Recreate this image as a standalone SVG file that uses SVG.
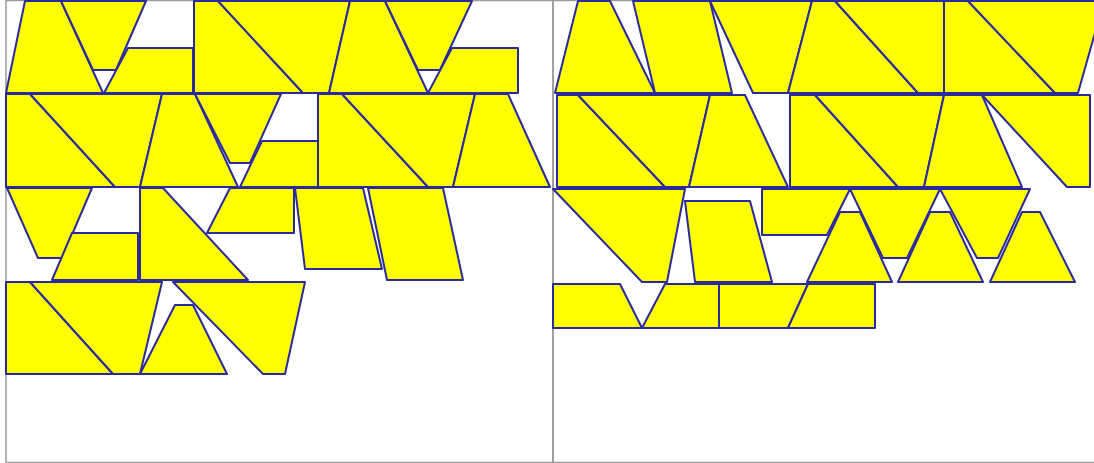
<svg xmlns="http://www.w3.org/2000/svg" width="1094" height="463" viewBox="0 0 1094 463">
<style>
.bg{fill:#ffffff}
.frame{fill:none;stroke:#9a9a9a;stroke-width:1.5}
.p{fill:#ffff00;stroke:#2a2a9e;stroke-width:2;stroke-linejoin:round}
</style>
<rect class="bg" x="0" y="0" width="1094" height="463"/>
<g id="frames">
<rect class="frame" x="6" y="0.5" width="547" height="462"/>
<rect class="frame" x="553" y="0.5" width="547" height="462"/>
</g>
<g id="left-panel">
<g id="L1A"><polygon class="p" points="6,93 25,1 61,1 103,93"/></g>
<g id="L1B"><polygon class="p" points="61,1 146,1 116,70 93,70"/></g>
<g id="L1C"><polygon class="p" points="104,93 128,48 193,48 193,93"/></g>
<g id="L1D"><polygon class="p" points="194,1 218,1 303,93 194,93"/></g>
<g id="L1E"><polygon class="p" points="218,1 350,1 329,93 303,93"/></g>
<g id="L1F"><polygon class="p" points="350,1 385,1 428,93 329,93"/></g>
<g id="L1G"><polygon class="p" points="385,1 472,1 440,70 418,70"/></g>
<g id="L1H"><polygon class="p" points="428,93 452,48 518,48 518,93"/></g>
<g id="L2I"><polygon class="p" points="6,94 30,94 115,187 6,187"/></g>
<g id="L2J"><polygon class="p" points="30,94 162,94 140,187 115,187"/></g>
<g id="L2K"><polygon class="p" points="162,94 195,94 238,187 140,187"/></g>
<g id="L2L"><polygon class="p" points="195,94 281,94 250,163 230,163"/></g>
<g id="L2M"><polygon class="p" points="240,187 262,141 318,141 318,187"/></g>
<g id="L2N"><polygon class="p" points="318,94 342,94 428,187 318,187"/></g>
<g id="L2O"><polygon class="p" points="342,94 475,94 453,187 428,187"/></g>
<g id="L2P"><polygon class="p" points="475,94 508,94 550,187 453,187"/></g>
<g id="L3Q"><polygon class="p" points="7,188 92,188 62,258 38,258"/></g>
<g id="L3R"><polygon class="p" points="52,280 72,233 138,233 138,280"/></g>
<g id="L3S"><polygon class="p" points="140,188 163,188 248,280 140,280"/></g>
<g id="L3T"><polygon class="p" points="207,233 230,188 294,188 294,233"/></g>
<g id="L3U"><polygon class="p" points="295,188 363,188 382,269 305,269"/></g>
<g id="L3V"><polygon class="p" points="368,188 443,188 463,280 387,280"/></g>
<g id="L4W"><polygon class="p" points="6,282 30,282 113,374 6,374"/></g>
<g id="L4X"><polygon class="p" points="30,282 162,282 140,374 113,374"/></g>
<g id="L4Y"><polygon class="p" points="140,374 175,305 193,305 227,374"/></g>
<g id="L4Z"><polygon class="p" points="173,282 305,282 285,374 263,374"/></g>
</g>
<g id="right-panel">
<g id="R1a"><polygon class="p" points="555,93 578,1 610,1 655,93"/></g>
<g id="R1b"><polygon class="p" points="633,1 710,1 732,93 655,93"/></g>
<g id="R1c"><polygon class="p" points="710,1 812,1 788,93 753,93"/></g>
<g id="R1d"><polygon class="p" points="812,1 835,1 918,93 788,93"/></g>
<g id="R1e"><polygon class="p" points="835,1 944,1 944,93 918,93"/></g>
<g id="R1f"><polygon class="p" points="944,1 968,1 1055,93 944,93"/></g>
<g id="R1g"><polygon class="p" points="968,1 1104,1 1078,93 1055,93"/></g>
<g id="R2h"><polygon class="p" points="557,95 578,95 665,187 557,187"/></g>
<g id="R2i"><polygon class="p" points="578,95 710,95 689,187 665,187"/></g>
<g id="R2j"><polygon class="p" points="710,95 745,95 788,187 689,187"/></g>
<g id="R2k"><polygon class="p" points="790,95 815,95 898,187 790,187"/></g>
<g id="R2l"><polygon class="p" points="815,95 944,95 924,187 898,187"/></g>
<g id="R2m"><polygon class="p" points="944,95 982,95 1022,187 924,187"/></g>
<g id="R2n"><polygon class="p" points="982,95 1090,95 1090,187 1067,187"/></g>
<g id="R3o"><polygon class="p" points="553,189 685,189 667,282 642,282"/></g>
<g id="R3p"><polygon class="p" points="685,201 750,201 772,282 695,282"/></g>
<g id="R3q"><polygon class="p" points="762,189 850,189 827,235 762,235"/></g>
<g id="R3r"><polygon class="p" points="807,282 840,212 860,212 892,282"/></g>
<g id="R3s"><polygon class="p" points="850,189 940,189 907,258 883,258"/></g>
<g id="R3t"><polygon class="p" points="898,282 930,212 950,212 983,282"/></g>
<g id="R3u"><polygon class="p" points="940,189 1030,189 998,258 977,258"/></g>
<g id="R3v"><polygon class="p" points="990,282 1022,212 1040,212 1075,282"/></g>
<g id="R4w"><polygon class="p" points="553,284 620,284 642,328 553,328"/></g>
<g id="R4x"><polygon class="p" points="642,328 665,284 719,284 719,328"/></g>
<g id="R4y"><polygon class="p" points="719,284 808,284 788,328 719,328"/></g>
<g id="R4z"><polygon class="p" points="788,328 808,284 875,284 875,328"/></g>
</g>
</svg>
